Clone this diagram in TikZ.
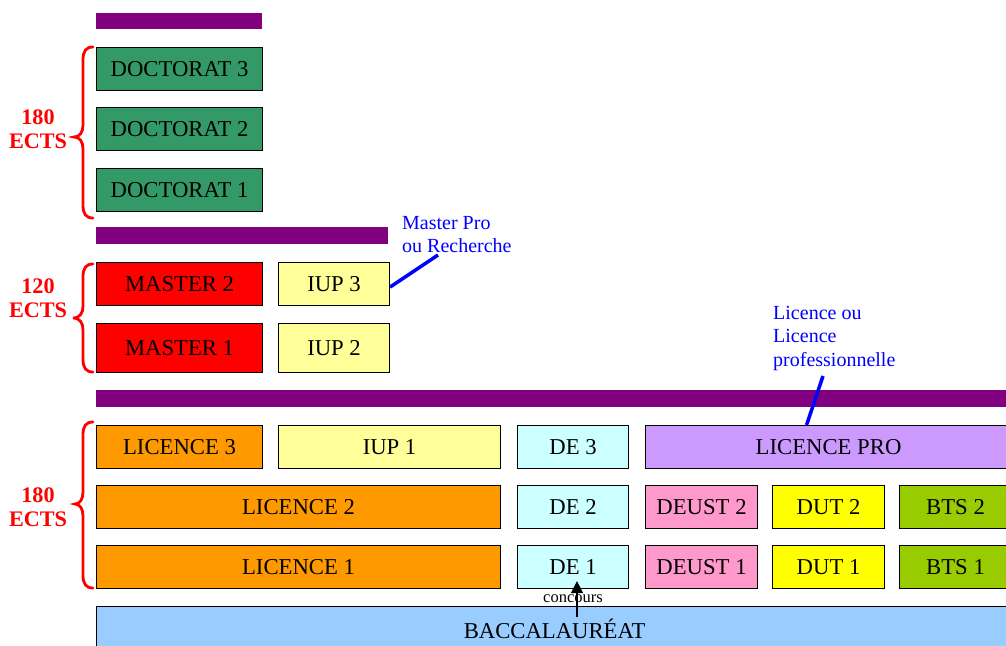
\documentclass[tikz,border=0pt]{standalone}
\usepackage{fontspec}
\setmainfont{Liberation Serif}
\usetikzlibrary{arrows.meta,calc}
\definecolor{barpurple}{HTML}{800080}
\definecolor{docgreen}{HTML}{339966}
\definecolor{iupyellow}{HTML}{FFFF99}
\definecolor{decyan}{HTML}{CCFFFF}
\definecolor{lprocol}{HTML}{CC99FF}
\definecolor{deustcol}{HTML}{FF99CC}
\definecolor{dutcol}{HTML}{FFFF00}
\definecolor{btscol}{HTML}{99CC00}
\definecolor{liccol}{HTML}{FF9900}
\definecolor{baccol}{HTML}{99CCFF}
\definecolor{calblue}{HTML}{0000FF}
\begin{document}
\begin{tikzpicture}[x=1pt,y=-1pt,
  cell/.style={draw=black, line width=1.1pt, anchor=north west, inner sep=0pt,
    font=\fontsize{22.7}{25}\selectfont, text=black},
  bar/.style={fill=barpurple, draw=none},
  ects/.style={text=red, font=\bfseries\fontsize{22.2}{24}\selectfont, align=center},
  bracestyle/.style={draw=red, line width=2.8pt, line cap=round},
  callout/.style={text=calblue, font=\fontsize{20}{23.5}\selectfont, align=left,
    anchor=north west, inner sep=0pt},
  callline/.style={draw=calblue, line width=3.5pt}]
\useasboundingbox (0,0) rectangle (1006,645);
\clip (0,0) rectangle (1006,645);

% purple bars
\fill[bar] (96,13) rectangle (262,29);
\fill[bar] (96,227) rectangle (388,244);
\fill[bar] (96,390) rectangle (1012,407);

% doctorat
\node[cell, fill=docgreen, minimum width=166pt, minimum height=43pt] (d3) at (96,47) {DOCTORAT 3};
\node[cell, fill=docgreen, minimum width=166pt, minimum height=43pt] (d2) at (96,107) {DOCTORAT 2};
\node[cell, fill=docgreen, minimum width=166pt, minimum height=43pt] (d1) at (96,168) {DOCTORAT 1};

% master
\node[cell, fill=red, minimum width=166pt, minimum height=43pt] (m2) at (96,262) {MASTER 2};
\node[cell, fill=iupyellow, minimum width=111pt, minimum height=43pt] (iup3) at (278,262) {IUP 3};
\node[cell, fill=red, minimum width=166pt, minimum height=49pt] (m1) at (96,323) {MASTER 1};
\node[cell, fill=iupyellow, minimum width=111pt, minimum height=49pt] (iup2) at (278,323) {IUP 2};

% licence level
\node[cell, fill=liccol, minimum width=166pt, minimum height=43pt] (l3) at (96,425) {LICENCE 3};
\node[cell, fill=iupyellow, minimum width=222pt, minimum height=43pt] (iup1) at (278,425) {IUP 1};
\node[cell, fill=decyan, minimum width=111pt, minimum height=43pt] (de3) at (517,425) {DE 3};
\node[cell, fill=lprocol, minimum width=366pt, minimum height=43pt] (lpro) at (645,425) {LICENCE PRO};

\node[cell, fill=liccol, minimum width=404pt, minimum height=43pt] (l2) at (96,485) {LICENCE 2};
\node[cell, fill=decyan, minimum width=111pt, minimum height=43pt] (de2) at (517,485) {DE 2};
\node[cell, fill=deustcol, minimum width=112pt, minimum height=43pt] (deust2) at (645,485) {DEUST 2};
\node[cell, fill=dutcol, minimum width=112pt, minimum height=43pt] (dut2) at (772,485) {DUT 2};
\node[cell, fill=btscol, minimum width=112pt, minimum height=43pt] (bts2) at (899,485) {BTS 2};

\node[cell, fill=liccol, minimum width=404pt, minimum height=43pt] (l1) at (96,545) {LICENCE 1};
\node[cell, fill=decyan, minimum width=111pt, minimum height=43pt] (de1) at (517,545) {DE 1};
\node[cell, fill=deustcol, minimum width=112pt, minimum height=43pt] (deust1) at (645,545) {DEUST 1};
\node[cell, fill=dutcol, minimum width=112pt, minimum height=43pt] (dut1) at (772,545) {DUT 1};
\node[cell, fill=btscol, minimum width=112pt, minimum height=43pt] (bts1) at (899,545) {BTS 1};

\node[cell, fill=baccol, minimum width=916pt, minimum height=44pt] (bac) at (96,606) {BACCALAURÉAT};

% braces
\draw[bracestyle] (93,47) .. controls (86,47) and (83,51) .. (83,60) -- (83,125)
  .. controls (83,132) and (80,137) .. (74,137) .. controls (80,137) and (83,142) .. (83,149)
  -- (83,205) .. controls (83,214) and (86,218) .. (93,218);
\draw[bracestyle] (93,264) .. controls (86,264) and (83,268) .. (83,277) -- (83,306)
  .. controls (83,313) and (80,318) .. (73,318) .. controls (80,318) and (83,323) .. (83,330)
  -- (83,359) .. controls (83,368) and (86,372) .. (93,372);
\draw[bracestyle] (93,422) .. controls (86,422) and (83,426) .. (83,435) -- (83,492)
  .. controls (83,499) and (80,504) .. (75,504) .. controls (80,504) and (83,509) .. (83,516)
  -- (83,575) .. controls (83,584) and (86,588) .. (93,588);

% ECTS labels
\node[ects] (e1) at (38,129) {180\\ECTS};
\node[ects] (e2) at (38,298) {120\\ECTS};
\node[ects] (e3) at (38,507) {180\\ECTS};

% callouts
\node[callout] (mp) at (402,216) {Master Pro\\ou Recherche};
\coordinate (mpend) at (438,255);
\draw[callline] ([yshift=-3pt]iup3.east) -- (mpend);

\node[callout] (lp) at (773,306) {Licence ou\\Licence\\professionnelle};
\coordinate (lpend) at (823,376);
\draw[callline] ([xshift=-22pt]lpro.north) -- (lpend);

% concours
\node[font=\fontsize{16.5}{18}\selectfont, inner sep=0pt] (conc) at (573,599) {concours};
\coordinate (cstart) at (577,617);
\draw[line width=1.1pt, -{Triangle[length=12pt,width=12pt]}] (cstart) -- ($(cstart |- de1.south)+(0,-8)$);
\end{tikzpicture}
\end{document}
